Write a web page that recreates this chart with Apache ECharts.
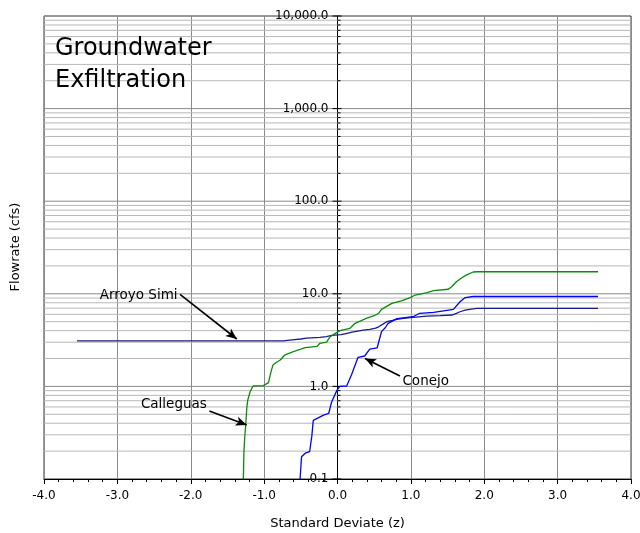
<!DOCTYPE html>
<html>
<head>
<meta charset="utf-8">
<script src="https://cdn.jsdelivr.net/npm/echarts@6/dist/echarts.min.js"></script>
<style>
  html, body { margin: 0; padding: 0; background: #fff; }
  #chart { width: 640px; height: 533px; }
</style>
</head>
<body>
<div id="chart"></div>
<script>
// Flow-duration curves: flowrate (cfs) against standard normal deviate z
const arroyoSimi = [
  [-3.55, 3.1], [-0.74, 3.1], [-0.62, 3.18], [-0.5, 3.25], [-0.42, 3.32],
  [-0.24, 3.39], [-0.15, 3.45], [-0.08, 3.55], [0.05, 3.62], [0.13, 3.74],
  [0.2, 3.85], [0.22, 4.0], [0.35, 4.05], [0.44, 4.13], [0.52, 4.25],
  [0.56, 4.4], [0.62, 4.7], [0.67, 4.99], [0.75, 5.15], [0.81, 5.3],
  [0.92, 5.45], [1.03, 5.57], [1.22, 5.75], [1.4, 5.82], [1.56, 5.9],
  [1.62, 6.15], [1.67, 6.4], [1.74, 6.65], [1.8, 6.8], [1.9, 6.97],
  [3.55, 6.97]
];
const calleguas = [
  [-1.283, 0.1], [-1.275, 0.2], [-1.262, 0.3], [-1.251, 0.38], [-1.235, 0.6],
  [-1.223, 0.71], [-1.19, 0.88], [-1.169, 0.95], [-1.147, 1.01], [-1.01, 1.02],
  [-0.99, 1.06], [-0.94, 1.1], [-0.92, 1.3], [-0.9, 1.5], [-0.88, 1.7],
  [-0.84, 1.8], [-0.78, 1.93], [-0.72, 2.18], [-0.62, 2.35], [-0.56, 2.43],
  [-0.5, 2.52], [-0.44, 2.62], [-0.28, 2.7], [-0.24, 2.92], [-0.15, 3.0],
  [-0.1, 3.44], [-0.06, 3.6], [0.03, 4.0], [0.17, 4.24], [0.24, 4.8],
  [0.4, 5.45], [0.5, 5.8], [0.56, 6.16], [0.6, 6.79], [0.74, 7.87],
  [0.87, 8.4], [0.99, 9.1], [1.06, 9.7], [1.22, 10.3], [1.31, 10.8],
  [1.51, 11.2], [1.56, 12.0], [1.62, 13.5], [1.7, 15.0], [1.76, 16.0],
  [1.85, 17.2], [1.9, 17.3], [3.55, 17.3]
];
const conejo = [
  [-0.51, 0.1], [-0.49, 0.174], [-0.44, 0.19], [-0.38, 0.197], [-0.35, 0.29],
  [-0.33, 0.43], [-0.31, 0.45], [-0.19, 0.49], [-0.12, 0.51], [-0.08, 0.68],
  [-0.01, 0.9], [0.03, 1.0], [0.125, 1.01], [0.19, 1.33], [0.28, 2.06],
  [0.37, 2.13], [0.44, 2.52], [0.54, 2.6], [0.56, 2.7], [0.6, 3.9],
  [0.65, 4.3], [0.69, 4.8], [0.81, 5.4], [1.03, 5.65], [1.12, 6.16],
  [1.31, 6.3], [1.58, 6.8], [1.67, 8.2], [1.74, 9.1], [1.85, 9.35],
  [3.55, 9.35]
];

// Callout arrows: [tail, head] in data coordinates
const arrowArroyo = [[-2.146, 9.83], [-1.373, 3.25]];
const arrowCalleguas = [[-1.747, 0.542], [-1.237, 0.383]];
const arrowConejo = [[0.851, 1.295], [0.375, 2.0]];

// Axis ticks
const xTicks = [-4, -3, -2, -1, 0, 1, 2, 3, 4];
const decades = [0.1, 1, 10, 100, 1000, 10000];
const minorSteps = [2, 3, 4, 5, 6, 7, 8, 9];

const FONT = 'DejaVu Sans';

function fmtFlow(v) {
  return Number(v).toLocaleString('en-US', { minimumFractionDigits: 1, maximumFractionDigits: 1 });
}

// Horizontal log grid lines, plus ticks and labels on the y axis at z = 0
const logLines = [];
decades.forEach((d, i) => {
  logLines.push([0, d, 1]);
  if (i < decades.length - 1) minorSteps.forEach(m => logLines.push([0, +(d * m).toPrecision(3), 0]));
});

function renderLogLine(params, api) {
  const v = api.value(1);
  const major = api.value(2) === 1;
  const a = api.coord([xTicks[0], v]);
  const b = api.coord([xTicks[xTicks.length - 1], v]);
  const c = api.coord([0, v]);
  const children = [];
  if (v > decades[0] && v < decades[decades.length - 1]) {
    children.push({
      type: 'line', shape: { x1: a[0], y1: a[1], x2: b[0], y2: b[1] },
      style: { stroke: major ? '#8a8a8a' : '#b8b8b8', lineWidth: 1 }
    });
  }
  children.push({
    type: 'line',
    shape: { x1: c[0] - (major ? 5 : 0), y1: c[1], x2: c[0] + (major ? 4 : 3), y2: c[1] },
    style: { stroke: '#000', lineWidth: 1 }, z2: 10
  });
  if (major) {
    children.push({
      type: 'text', x: c[0] - 9, y: c[1], z2: 20,
      style: {
        text: fmtFlow(v), fill: '#000', fontFamily: FONT, fontSize: 12,
        align: 'right', verticalAlign: 'middle'
      }
    });
  }
  return { type: 'group', children };
}

function callout(name, arrow, pos, offset) {
  return {
    markLine: {
      silent: true, animation: false,
      symbol: ['none', 'arrow'], symbolSize: [7, 11],
      lineStyle: { color: '#000', width: 1.6, type: 'solid' },
      label: { show: false },
      data: [[{ coord: arrow[0] }, { coord: arrow[1] }]]
    },
    markPoint: {
      silent: true, animation: false,
      symbol: 'rect', symbolSize: 1, itemStyle: { color: 'rgba(0,0,0,0)' },
      label: {
        show: true, position: pos, distance: 2, offset: offset,
        formatter: name, color: '#000', fontFamily: FONT, fontSize: 13.5
      },
      data: [{ coord: arrow[0] }]
    }
  };
}

const chart = echarts.init(document.getElementById('chart'), null, { renderer: 'canvas' });

chart.setOption({
  animation: false,
  backgroundColor: '#fff',
  title: {
    text: 'Groundwater\nExfiltration',
    left: 50, top: 28,
    textStyle: { fontFamily: FONT, fontSize: 24, fontWeight: 'normal', color: '#000', lineHeight: 32 }
  },
  graphic: [{
    type: 'text', x: 16, y: 247, rotation: Math.PI / 2,
    style: {
      text: 'Flowrate (cfs)', fontFamily: FONT, fontSize: 13, fill: '#000',
      align: 'center', verticalAlign: 'middle'
    }
  }],
  grid: {
    left: 44, right: 9, top: 16, bottom: 54,
    outerBoundsMode: 'none', containLabel: false,
    show: true, borderColor: '#333', borderWidth: 1, backgroundColor: 'transparent'
  },
  xAxis: {
    type: 'value', min: -4, max: 4, interval: 1,
    name: 'Standard Deviate (z)', nameLocation: 'middle', nameGap: 38,
    nameTextStyle: { fontFamily: FONT, fontSize: 13, color: '#000' },
    axisLine: { onZero: false, lineStyle: { color: '#000', width: 1 } },
    axisTick: { show: true, length: 5, lineStyle: { color: '#000' } },
    minorTick: { show: true, splitNumber: 5, length: 3, lineStyle: { color: '#000' } },
    splitLine: { show: true, lineStyle: { color: '#8a8a8a', width: 1 } },
    axisLabel: {
      margin: 11, fontFamily: FONT, fontSize: 12, color: '#000',
      formatter: v => v.toFixed(1)
    }
  },
  yAxis: {
    type: 'log', logBase: 10, min: decades[0], max: decades[decades.length - 1],
    axisLine: { onZero: true, lineStyle: { color: '#000', width: 1 } },
    axisTick: { show: false },
    splitLine: { show: false },
    axisLabel: { show: false }
  },
  series: [
    {
      name: 'grid', type: 'custom', silent: true, z: 1, clip: false,
      coordinateSystem: 'cartesian2d',
      encode: { x: 0, y: 1 },
      renderItem: renderLogLine, data: logLines
    },
    Object.assign({
      name: 'Arroyo Simi', type: 'line', z: 3, showSymbol: false, symbol: 'none',
      data: arroyoSimi, lineStyle: { color: '#1c1c8a', width: 1.3 }, itemStyle: { color: '#1c1c8a' }
    }, callout('Arroyo Simi', arrowArroyo, 'left', [0, 1])),
    Object.assign({
      name: 'Calleguas', type: 'line', z: 3, showSymbol: false, symbol: 'none',
      data: calleguas, lineStyle: { color: '#0a8a0a', width: 1.3 }, itemStyle: { color: '#0a8a0a' }
    }, callout('Calleguas', arrowCalleguas, 'left', [0, -7])),
    Object.assign({
      name: 'Conejo', type: 'line', z: 3, showSymbol: false, symbol: 'none',
      data: conejo, lineStyle: { color: '#0000ff', width: 1.3 }, itemStyle: { color: '#0000ff' }
    }, callout('Conejo', arrowConejo, 'right', [0, 5]))
  ]
});
</script>
</body>
</html>
